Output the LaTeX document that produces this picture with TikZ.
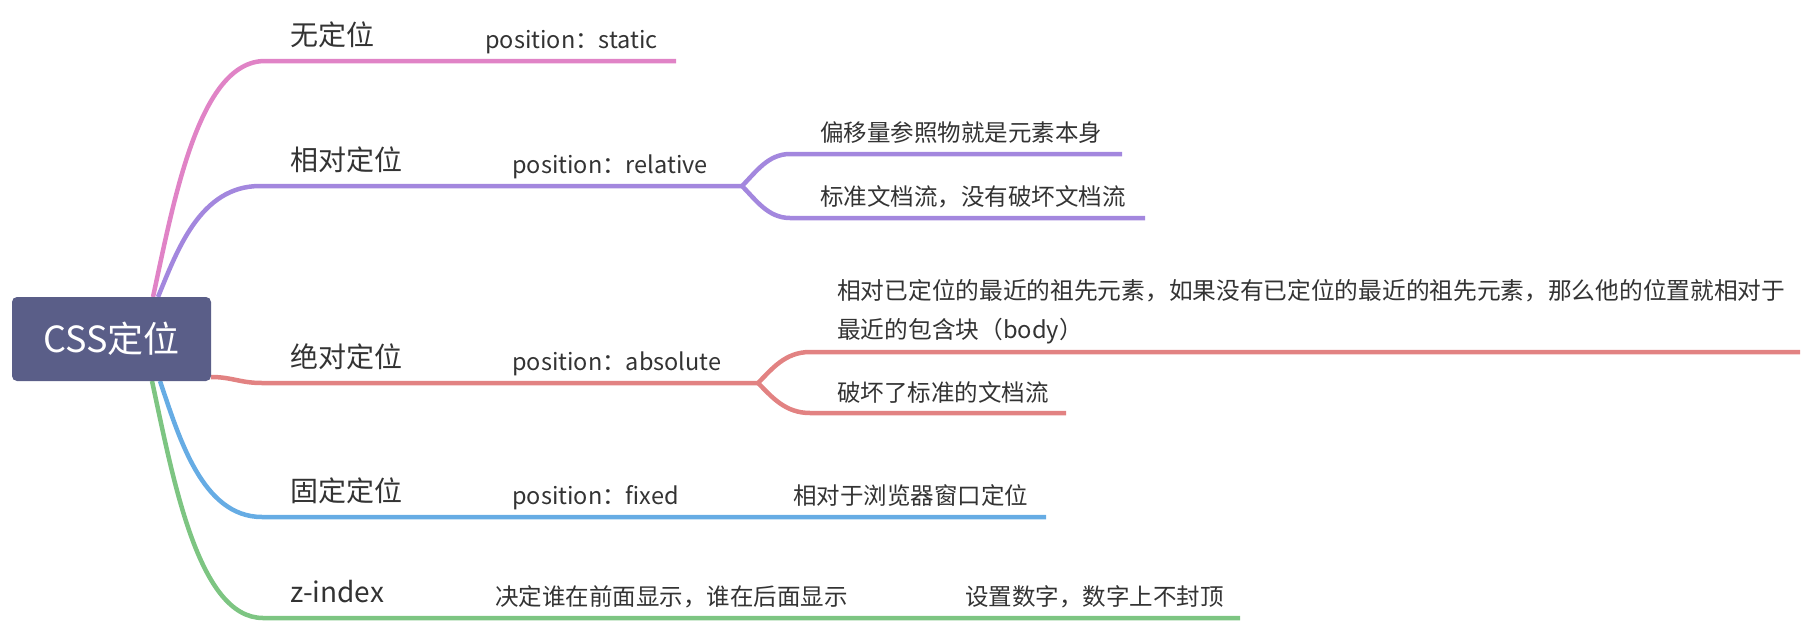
\documentclass[tikz,border=0pt]{standalone}
\usepackage{fontspec}
\setmainfont{Noto Sans CJK SC}
\definecolor{cpink}{HTML}{E083C6}
\definecolor{cpurple}{HTML}{A387DE}
\definecolor{cred}{HTML}{E28282}
\definecolor{cblue}{HTML}{66ACE4}
\definecolor{cgreen}{HTML}{7DC582}
\definecolor{rootc}{HTML}{5A5E88}
\definecolor{txt}{HTML}{333333}
\tikzset{
  branch/.style={line width=4.5pt},
  rootbox/.style={rectangle, rounded corners=5pt, fill=rootc, text=white, minimum width=199pt, minimum height=84pt, inner sep=0pt, font=\fontsize{36}{40}\selectfont},
  lone/.style={anchor=base west, inner sep=0pt, text=txt, font=\fontsize{28}{34}\selectfont},
  ltwo/.style={anchor=base west, inner sep=0pt, text=txt, font=\fontsize{23.5}{28}\selectfont},
}
\begin{document}
\begin{tikzpicture}[x=1pt,y=-1pt]
\useasboundingbox (0,0) rectangle (1812,624);
% coordinates
\coordinate (pkA) at (153,297); \coordinate (pkB) at (265,61); \coordinate (pkC) at (676,61);
\coordinate (puA) at (158,297); \coordinate (puB) at (260,186); \coordinate (puS) at (742,186);
\coordinate (puU) at (790,154); \coordinate (puUe) at (1122,154);
\coordinate (puD) at (790,218); \coordinate (puDe) at (1145,218);
\coordinate (rdA) at (211,377); \coordinate (rdB) at (262,383); \coordinate (rdS) at (758,383);
\coordinate (rdU) at (810,352); \coordinate (rdUe) at (1800,352);
\coordinate (rdD) at (810,413); \coordinate (rdDe) at (1066,413);
\coordinate (blA) at (160,381); \coordinate (blB) at (262,517); \coordinate (blC) at (1046,517);
\coordinate (grA) at (152,381); \coordinate (grB) at (263,618); \coordinate (grC) at (1240,618);
% branches
\draw[branch,cpink] (pkA) .. controls (174,200) and (199,61) .. (pkB) -- (pkC);
\draw[branch,cpurple] (puA) .. controls (177,251) and (200,186) .. (puB) -- (puS);
\draw[branch,cpurple] (puS) .. controls (756,172) and (768,154) .. (puU) -- (puUe);
\draw[branch,cpurple] (puS) .. controls (756,200) and (768,218) .. (puD) -- (puDe);
\draw[branch,cred] (rdA) .. controls (232,377) and (240,383) .. (rdB) -- (rdS);
\draw[branch,cred] (rdS) .. controls (772,369) and (785,352) .. (rdU) -- (rdUe);
\draw[branch,cred] (rdS) .. controls (772,397) and (785,413) .. (rdD) -- (rdDe);
\draw[branch,cblue] (blA) .. controls (179,437) and (202,517) .. (blB) -- (blC);
\draw[branch,cgreen] (grA) .. controls (173,478) and (198,618) .. (grB) -- (grC);
% root
\node[rootbox] (root) at (111.5,339) {CSS定位};
% level 1
\node[lone] (n1) at (290,45) {无定位};
\node[lone] (n2) at (290,170) {相对定位};
\node[lone] (n3) at (290,367) {绝对定位};
\node[lone] (n4) at (290,501) {固定定位};
\node[lone] (n5) at (290,602) {z-index};
% level 2
\node[ltwo] (m1) at (485,48) {position：static};
\node[ltwo] (m2) at (512,173) {position：relative};
\node[ltwo] (m3) at (512,370) {position：absolute};
\node[ltwo] (m4) at (512,504) {position：fixed};
\node[ltwo] (m5) at (495,605) {决定谁在前面显示，谁在后面显示};
% level 3
\node[ltwo] (k1) at (820,141) {偏移量参照物就是元素本身};
\node[ltwo] (k2) at (820,205) {标准文档流，没有破坏文档流};
\node[ltwo, align=left, font=\fontsize{23.7}{39}\selectfont] (k3) at (837,338) {相对已定位的最近的祖先元素，如果没有已定位的最近的祖先元素，那么他的位置就相对于\\最近的包含块（body）};
\node[ltwo] (k4) at (837,401) {破坏了标准的文档流};
\node[ltwo] (k5) at (793,504) {相对于浏览器窗口定位};
\node[ltwo] (k6) at (965,605) {设置数字，数字上不封顶};
\end{tikzpicture}
\end{document}
